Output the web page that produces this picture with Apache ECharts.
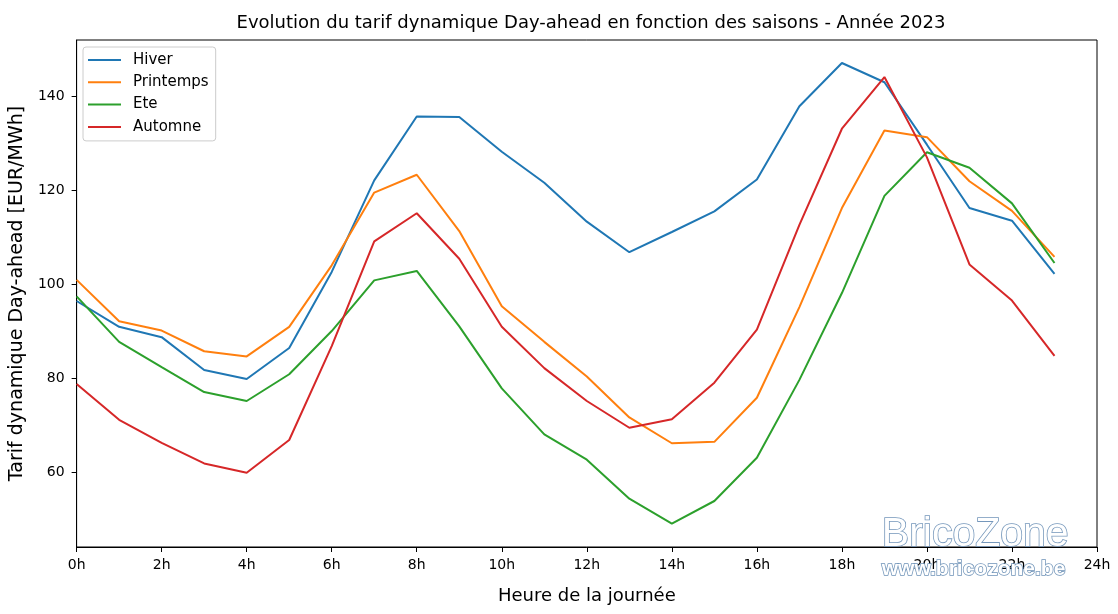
<!DOCTYPE html>
<html>
<head>
<meta charset="utf-8">
<script src="https://cdn.jsdelivr.net/npm/echarts@6/dist/echarts.min.js"></script>
<style>
  html, body { margin: 0; padding: 0; background: #fff; }
  #chart { width: 1118px; height: 614px; }
</style>
</head>
<body>
<div id="chart"></div>
<script>
// heures 0..23
const heures = [0, 1, 2, 3, 4, 5, 6, 7, 8, 9, 10, 11, 12, 13, 14, 15, 16, 17, 18, 19, 20, 21, 22, 23];

// prix moyens par saison [EUR/MWh]
const hiver = [96.4, 90.9, 88.7, 81.7, 79.8, 86.4, 102.6, 122.1, 135.7, 135.6, 128.2, 121.6, 113.3, 106.8, 111.1, 115.5, 122.3, 137.9, 147.1, 143.0, 129.7, 116.2, 113.5, 102.2];
const printemps = [100.9, 92.1, 90.1, 85.7, 84.6, 90.9, 104.0, 119.5, 123.3, 111.3, 95.3, 87.7, 80.3, 71.6, 66.1, 66.4, 75.8, 95.1, 116.2, 132.7, 131.3, 121.9, 115.6, 105.8];
const ete = [97.4, 87.7, 82.3, 77.0, 75.1, 80.8, 90.0, 100.8, 102.8, 91.0, 77.8, 68.0, 62.6, 54.3, 49.0, 53.8, 63.0, 79.6, 98.1, 118.8, 128.1, 124.8, 117.2, 104.5];
const automne = [78.7, 71.1, 66.2, 61.8, 59.8, 66.8, 86.8, 109.1, 115.1, 105.4, 90.9, 82.1, 75.1, 69.4, 71.2, 79.0, 90.3, 112.6, 133.1, 144.1, 127.0, 104.2, 96.5, 84.7];

const saisons = ['Hiver', 'Printemps', 'Ete', 'Automne'];
const couleurs = ['#1f77b4', '#ff7f0e', '#2ca02c', '#d62728'];
const yTicks = [60, 80, 100, 120, 140];

const font = 'DejaVu Sans';

function serie(name, values, color) {
  return {
    name: name,
    type: 'line',
    data: heures.map((h, i) => [h, values[i]]),
    showSymbol: false,
    symbol: 'none',
    lineStyle: { color: color, width: 2 },
    itemStyle: { color: color },
    emphasis: { disabled: true }
  };
}

const chart = echarts.init(document.getElementById('chart'));

const option = {
  animation: false,
  backgroundColor: '#fff',
  title: {
    text: 'Evolution du tarif dynamique Day-ahead en fonction des saisons - Année 2023',
    left: 586,
    top: 9,
    textAlign: 'center',
    textStyle: { fontFamily: font, fontSize: 18, fontWeight: 'normal', color: '#000' }
  },
  grid: {
    left: 76,
    right: 21,
    top: 40,
    bottom: 67,
    show: true,
    borderColor: '#000',
    borderWidth: 1,
    backgroundColor: 'transparent'
  },
  legend: {
    orient: 'vertical',
    left: 83,
    top: 47,
    data: saisons,
    icon: 'rect',
    itemWidth: 33,
    itemHeight: 2,
    itemGap: 7.3,
    padding: [5.5, 7, 6.5, 5],
    borderColor: '#ccc',
    borderWidth: 1,
    borderRadius: 3,
    backgroundColor: 'rgba(255,255,255,0.8)',
    textStyle: { fontFamily: font, fontSize: 15, color: '#000', padding: [0, 0, 0, 7] }
  },
  xAxis: {
    type: 'value',
    min: 0,
    max: 24,
    interval: 2,
    name: 'Heure de la journée',
    nameLocation: 'middle',
    nameGap: 40,
    nameTextStyle: { fontFamily: font, fontSize: 18, color: '#000' },
    axisLine: { show: true, lineStyle: { color: '#000', width: 1 } },
    axisTick: { show: true, length: 5, lineStyle: { color: '#000' } },
    axisLabel: {
      fontFamily: font, fontSize: 14, color: '#000', margin: 11,
      formatter: v => v + 'h'
    },
    splitLine: { show: false }
  },
  yAxis: {
    type: 'value',
    min: 44,
    max: 152,
    name: 'Tarif dynamique Day-ahead [EUR/MWh]',
    nameLocation: 'middle',
    nameGap: 47,
    nameTextStyle: { fontFamily: font, fontSize: 19, color: '#000' },
    axisLine: { show: true, lineStyle: { color: '#000', width: 1 } },
    axisTick: { show: true, length: 5, customValues: yTicks, lineStyle: { color: '#000' } },
    axisLabel: {
      fontFamily: font, fontSize: 14, color: '#000', margin: 12,
      customValues: yTicks
    },
    splitLine: { show: false }
  },
  series: [
    serie(saisons[0], hiver, couleurs[0]),
    serie(saisons[1], printemps, couleurs[1]),
    serie(saisons[2], ete, couleurs[2]),
    serie(saisons[3], automne, couleurs[3])
  ],
  graphic: [
    {
      type: 'text',
      left: 881,
      top: 513,
      z: 100,
      style: {
        text: 'BricoZone',
        fontFamily: 'Liberation Sans',
        fontSize: 41,
        fill: '#fff',
        stroke: '#7597bb',
        lineWidth: 1.6
      }
    },
    {
      type: 'text',
      left: 881,
      top: 558,
      z: 100,
      style: {
        text: 'www.bricozone.be',
        fontFamily: 'Liberation Sans',
        fontSize: 21,
        fontWeight: 'bold',
        fill: '#fff',
        stroke: '#6f93b8',
        lineWidth: 1.5
      }
    }
  ]
};

chart.setOption(option);
</script>
</body>
</html>
